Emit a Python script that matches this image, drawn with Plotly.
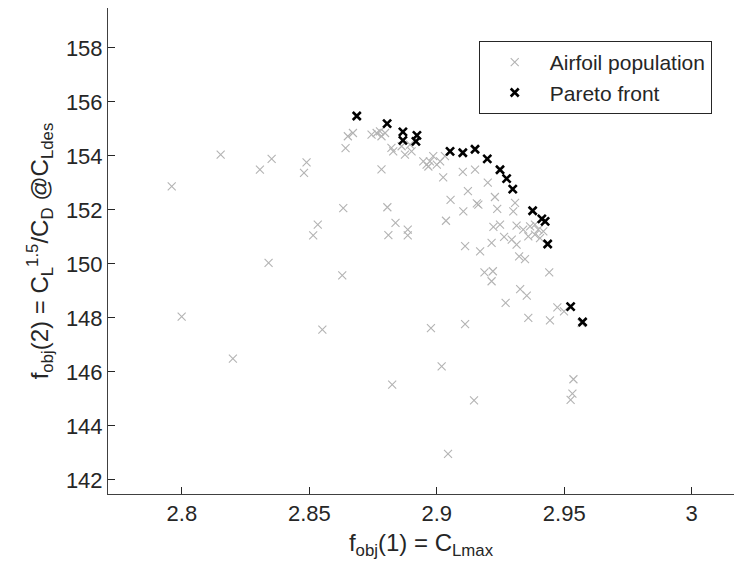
import plotly.graph_objects as go

# Airfoil population (f_obj(1) = CLmax, f_obj(2) = CL^1.5/CD)
pop_x = [2.7960, 2.7999, 2.8152, 2.8200, 2.8306, 2.8340, 2.8352, 2.8479, 2.8489, 2.8515,
         2.8533, 2.8551, 2.8629, 2.8633, 2.8642, 2.8651, 2.8671, 2.8744, 2.8764, 2.8777,
         2.8783, 2.8797, 2.8783, 2.8806, 2.8810, 2.8825, 2.8822, 2.8829, 2.8838, 2.8862,
         2.8875, 2.8886, 2.8886, 2.8895, 2.8901, 2.8947, 2.8960, 2.8967, 2.8973, 2.8977,
         2.8986, 2.9000, 2.9013, 2.9019, 2.9025, 2.9032, 2.9036, 2.9044, 2.9054, 2.9102,
         2.9104, 2.9111, 2.9111, 2.9122, 2.9146, 2.9150, 2.9157, 2.9163, 2.9170, 2.9187,
         2.9200, 2.9215, 2.9215, 2.9220, 2.9222, 2.9228, 2.9237, 2.9248, 2.9264, 2.9270,
         2.9294, 2.9300, 2.9307, 2.9313, 2.9313, 2.9323, 2.9327, 2.9339, 2.9346, 2.9353,
         2.9359, 2.9359, 2.9366, 2.9385, 2.9385, 2.9398, 2.9405, 2.9418, 2.9441, 2.9444,
         2.9473, 2.9499, 2.9525, 2.9532, 2.9536, 2.9568]
pop_y = [152.87, 148.05, 154.05, 146.49, 153.49, 150.04, 153.89, 153.37, 153.76, 151.06,
         151.46, 147.57, 149.58, 152.07, 154.29, 154.73, 154.85, 154.79, 154.85, 154.91,
         154.73, 154.85, 153.50, 152.10, 151.07, 145.53, 154.30, 154.17, 151.52, 154.36,
         154.05, 151.27, 151.06, 154.42, 154.17, 153.80, 153.68, 153.61, 153.80, 147.62,
         153.99, 153.68, 153.80, 146.21, 153.21, 153.99, 151.60, 142.97, 152.37, 153.41,
         151.95, 147.77, 150.66, 152.70, 144.95, 153.49, 152.24, 152.20, 150.47, 149.69,
         153.01, 150.78, 149.36, 149.73, 151.37, 152.48, 152.04, 151.46, 151.00, 148.56,
         150.90, 151.95, 152.26, 151.42, 150.72, 150.28, 149.07, 151.27, 150.18, 148.83,
         148.00, 151.02, 151.39, 151.46, 151.09, 151.27, 150.96, 151.21, 149.69, 147.91,
         148.39, 148.24, 144.97, 145.20, 145.73, 147.81]

# Pareto front
par_x = [2.8686, 2.8805, 2.8867, 2.8867, 2.8922, 2.8918, 2.9052, 2.9102, 2.9150, 2.9198,
         2.9248, 2.9274, 2.9298, 2.9376, 2.9412, 2.9425, 2.9435, 2.9525, 2.9572]
par_y = [155.48, 155.20, 154.89, 154.58, 154.76, 154.54, 154.17, 154.12, 154.25, 153.89,
         153.49, 153.16, 152.77, 151.97, 151.67, 151.58, 150.74, 148.42, 147.85]

x_ticks = [2.8, 2.85, 2.9, 2.95, 3.0]
x_tick_text = ["2.8", "2.85", "2.9", "2.95", "3"]
y_ticks = [142, 144, 146, 148, 150, 152, 154, 156, 158]

FONT = "Liberation Sans, Arial, Helvetica, sans-serif"
TXT = "#262626"

fig = go.Figure()
fig.add_trace(go.Scatter(
    x=pop_x + par_x, y=pop_y + par_y, mode="markers", name="Airfoil population",
    marker=dict(symbol="x-thin", size=8, color="#b3b3b3",
                line=dict(color="#b3b3b3", width=1.1)),
))
fig.add_trace(go.Scatter(
    x=par_x, y=par_y, mode="markers", name="Pareto front",
    marker=dict(symbol="x-thin", size=8, color="black",
                line=dict(color="black", width=2.6)),
))

fig.update_layout(
    width=734, height=579,
    margin=dict(l=108, r=0, t=8, b=85),
    paper_bgcolor="white", plot_bgcolor="white",
    font=dict(family=FONT, size=22, color=TXT),
    showlegend=True,
    legend=dict(
        x=0.9644, y=0.932, xanchor="right", yanchor="top",
        bgcolor="white", bordercolor=TXT, borderwidth=1,
        font=dict(family=FONT, size=21, color=TXT),
        itemwidth=60, tracegroupgap=0,
    ),
    xaxis=dict(
        range=[2.771, 3.0166], tickvals=x_ticks, ticktext=x_tick_text,
        showgrid=False, zeroline=False, showline=True, linecolor="#404040", linewidth=1,
        ticks="inside", ticklen=7, tickcolor="#262626", tickwidth=1,
        tickfont=dict(family=FONT, size=22, color=TXT), mirror=False,
        title=dict(text="f<sub>obj</sub>(1) = C<sub>Lmax</sub>",
                   font=dict(family=FONT, size=24, color=TXT), standoff=8),
    ),
    yaxis=dict(
        range=[141.48, 159.48], tickvals=y_ticks,
        showgrid=False, zeroline=False, showline=True, linecolor="#404040", linewidth=1,
        ticks="inside", ticklen=7, tickcolor="#262626", tickwidth=1,
        tickfont=dict(family=FONT, size=22, color=TXT), mirror=False,
        title=dict(text="f<sub>obj</sub>(2) = C<sub>L</sub><sup>1.5</sup>/C<sub>D</sub> @C<sub>Ldes</sub>",
                   font=dict(family=FONT, size=24, color=TXT), standoff=10),
    ),
)

fig.write_html("out.html")
